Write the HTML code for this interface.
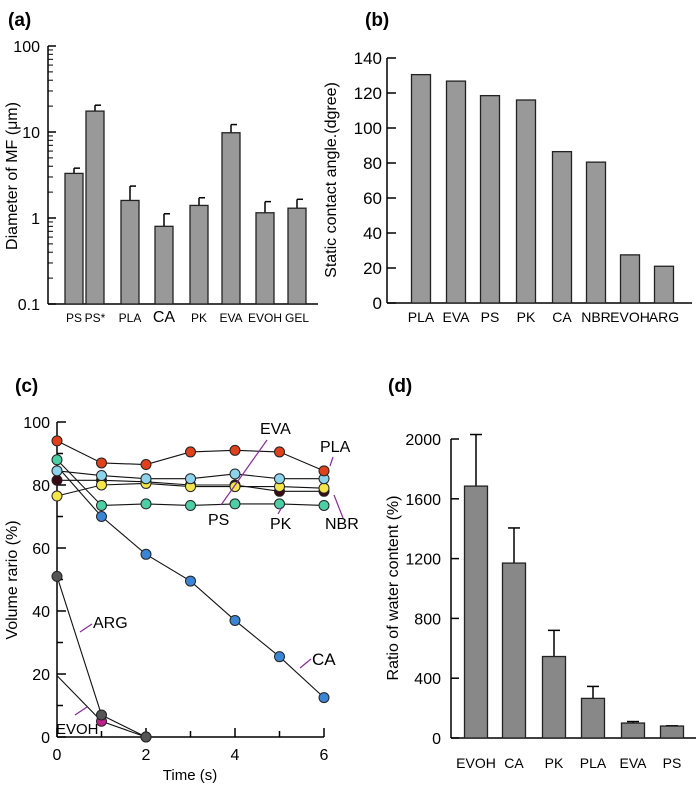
<!DOCTYPE html>
<html><head><meta charset="utf-8"><style>
body{margin:0;background:#fff;}
svg{display:block;font-family:"Liberation Sans",sans-serif;}
</style></head><body>
<svg id="s" width="696" height="788" viewBox="0 0 696 788"></svg>
<script>
// Panel a
const aCats=["PS","PS*","PLA","CA","PK","EVA","EVOH","GEL"];
const aVals=[3.3,17.5,1.6,0.8,1.4,9.8,1.15,1.3];
const aErr=[3.8,20.5,2.35,1.12,1.72,12.2,1.55,1.65];
const aTicks=[0.1,1,10,100];
// Panel b
const bCats=["PLA","EVA","PS","PK","CA","NBR","EVOH","ARG"];
const bVals=[130.5,126.8,118.5,116,86.5,80.5,27.5,21];
const bTicks=[0,20,40,60,80,100,120,140];
// Panel c
const cTime=[0,1,2,3,4,5,6];
const cPLA=[94,87,86.5,90.5,91,90.5,84.5];
const cEVA=[84.5,83,82,82,83.5,82,82];
const cPS=[76.5,80,80.5,79.5,79.5,79.5,79];
const cNBR=[81.5,81.5,81,80,80,78,78];
const cPK=[88,73.5,74,73.5,74,74,73.5];
const cCA=[86,70,58,49.5,37,25.5,12.5];
const cARG=[51,7,0];
const cEVOH=[19.5,5,0];
const cYTicks=[0,20,40,60,80,100];
const cXTicks=[0,2,4,6];
// Panel d
const dCats=["EVOH","CA","PK","PLA","EVA","PS"];
const dVals=[1685,1170,545,265,100,80];
const dErr=[2030,1405,720,345,110,82];
const dTicks=[0,400,800,1200,1600,2000];

const S=document.getElementById('s');const NS="http://www.w3.org/2000/svg";
function el(t,a,name,txt){const e=document.createElementNS(NS,t);for(const k in a)e.setAttribute(k,a[k]);


if(txt!==undefined)e.textContent=txt;S.appendChild(e);return e;}
function line(x1,y1,x2,y2,name,c,w){return el('line',{x1,y1,x2,y2,stroke:c||'#000','stroke-width':w||1.5},name);}
function text(x,y,s,name,size,anchor,extra){const a=Object.assign({x,y,'font-size':size||13,'text-anchor':anchor||'middle',fill:'#000'},extra||{});return el('text',a,name,s);}

// ---- Panel a
text(8,26,"(a)","panel-a-label",19,'start',{'font-weight':'bold'});
const aY=v=>304-86*Math.log10(v/0.1);
const aX=[74,95,130,164,199,231,265,297];
line(48,46,48,304,"a-y-axis");line(48,304,318,304,"a-x-axis");
aTicks.forEach(t=>{line(48,aY(t),56,aY(t),"a-major-tick");text(40,aY(t)+6,String(t),"a-tick-label",16,'end');});
for(let d=0;d<3;d++)for(let m=2;m<10;m++){const v=0.1*Math.pow(10,d)*m;line(48,aY(v),53,aY(v),"a-minor-tick",'#000',1);}
aCats.forEach((c,i)=>{const x=aX[i];
line(x,aY(aVals[i]),x,aY(aErr[i]),"a-error-bar");line(x,aY(aErr[i]),x+6,aY(aErr[i]),"a-error-cap");
el('rect',{x:x-9,y:aY(aVals[i]),width:18,height:304-aY(aVals[i]),fill:'#999',stroke:'#222','stroke-width':1.3},"a-bar-"+c.toLowerCase());
text(x,322,c,"a-x-label",c==="CA"?16:12);});
text(0,0,"Diameter of MF (μm)","a-y-axis-title",16,'middle',{transform:"translate(17,176) rotate(-90)"});

// ---- Panel b
text(365,26,"(b)","panel-b-label",19,'start',{'font-weight':'bold'});
const bY=v=>303-v*1.75;
const bX=[421,456,490,526,562,596,630,664];
line(387,58,387,303,"b-y-axis");line(387,303,692,303,"b-x-axis");
bTicks.forEach(t=>{line(387,bY(t),396,bY(t),"b-tick");text(382,bY(t)+6,String(t),"b-tick-label",17,'end');});
bCats.forEach((c,i)=>{el('rect',{x:bX[i]-9.5,y:bY(bVals[i]),width:19,height:303-bY(bVals[i]),fill:'#999',stroke:'#222','stroke-width':1.3},"b-bar-"+c.toLowerCase());
text(bX[i],322,c,"b-x-label",14);});
text(0,0,"Static contact angle.(dgree)","b-y-axis-title",16,'middle',{transform:"translate(336,180) rotate(-90)"});

// ---- Panel c
text(15,392,"(c)","panel-c-label",19,'start',{'font-weight':'bold'});
const cX=t=>57+t*44.5, cY=v=>737-v*3.15;
line(57,422,57,737,"c-y-axis");line(57,737,324,737,"c-x-axis");
for(let v=0;v<=100;v+=10){line(57,cY(v),v%20===0?66:63,cY(v),"c-y-tick");}
cYTicks.forEach(t=>text(50,cY(t)+6,String(t),"c-y-tick-label",16,'end'));
for(let t=0;t<=6;t++)line(cX(t),737,cX(t),t%2===0?728:731,"c-x-tick");
cXTicks.forEach(t=>text(cX(t),760,String(t),"c-x-tick-label",16));
text(190,780,"Time (s)","c-x-axis-title",15);
text(0,0,"Volume rario (%)","c-y-axis-title",16,'middle',{transform:"translate(17,580) rotate(-90)"});
function series(vals,color,name,noFirst){
 const pts=vals.map((v,i)=>cX(cTime[i])+","+cY(v)).join(" ");
 el('polyline',{points:pts,fill:'none',stroke:'#111','stroke-width':1.1},"c-line-"+name);
 vals.forEach((v,i)=>{if(noFirst&&i===0)return;el('circle',{cx:cX(cTime[i]),cy:cY(v),r:5,fill:color,stroke:'#222','stroke-width':1},"c-point-"+name);});}
series(cCA,'#3a86d4','ca',true);
series(cPK,'#4ccfa5','pk');
series(cNBR,'#3a0a14','nbr');
series(cPS,'#f4e64a','ps');
series(cEVA,'#8dd3ec','eva');
series(cPLA,'#e0401a','pla');
series(cEVOH,'#c0208a','evoh',true);
series(cARG,'#555','arg');
const P='#8a2a9a';
line(221,505,267,440,"c-eva-leader",P,1.2);text(260,434,"EVA","c-eva-label",16,'start');
line(330,466,333,457,"c-pla-leader",P,1.2);text(320,452,"PLA","c-pla-label",16,'start');
text(208,525,"PS","c-ps-label",16,'start');
line(278,514,282,507,"c-pk-leader",P,1.2);text(270,529,"PK","c-pk-label",16,'start');
line(334,495,343,518,"c-nbr-leader",P,1.2);text(325,529,"NBR","c-nbr-label",16,'start');
line(80,632,92,624,"c-arg-leader",P,1.2);text(93,628,"ARG","c-arg-label",16,'start');
line(300,668,311,659,"c-ca-leader",P,1.2);text(312,665,"CA","c-ca-label",17,'start');
line(75,715,87,707,"c-evoh-leader",P,1.2);text(56,734,"EVOH","c-evoh-label",15,'start');

// ---- Panel d
text(388,392,"(d)","panel-d-label",19,'start',{'font-weight':'bold'});
const dY=v=>738-v*0.1495;
const dX=[476,514,554,593,633,672];
line(451,439,451,738,"d-y-axis");line(451,738,696,738,"d-x-axis");
dTicks.forEach(t=>{line(451,dY(t),459,dY(t),"d-tick");text(441,dY(t)+6,String(t),"d-tick-label",16,'end');});
dCats.forEach((c,i)=>{const x=dX[i];
line(x,dY(dVals[i]),x,dY(dErr[i]),"d-error-bar");line(x-6,dY(dErr[i]),x+6,dY(dErr[i]),"d-error-cap");
el('rect',{x:x-11.5,y:dY(dVals[i]),width:23,height:738-dY(dVals[i]),fill:'#888',stroke:'#222','stroke-width':1.3},"d-bar-"+c.toLowerCase());
text(x,768,c,"d-x-label",14);});
text(0,0,"Ratio of water content (%)","d-y-axis-title",16,'middle',{transform:"translate(398,588) rotate(-90)"});
</script>
</body></html>
